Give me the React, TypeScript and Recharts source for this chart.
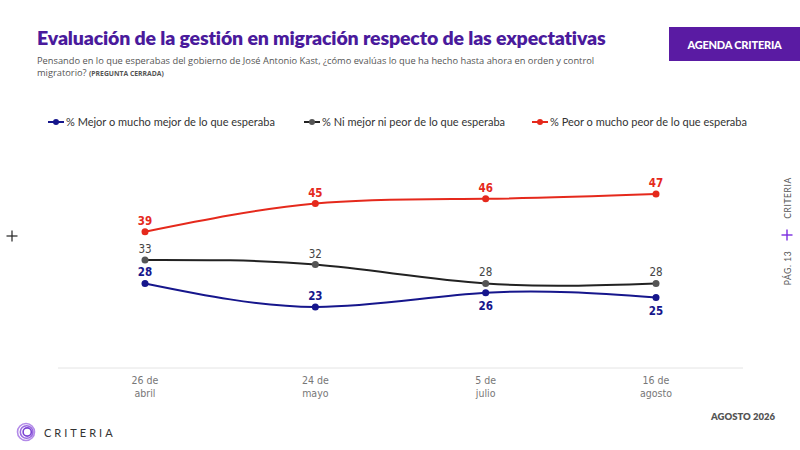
import { LabelList, Line, LineChart, XAxis, YAxis } from "recharts";

const fechas = ["26 de|abril", "24 de|mayo", "5 de|julio", "16 de|agosto"];
const mejor = [28, 23, 26, 25];
const igual = [33, 32, 28, 28];
const peor = [39, 45, 46, 47];
const mejorLabelSide = ["top", "top", "bottom", "bottom"];

const data = fechas.map((fecha, i) => ({
  fecha,
  mejor: mejor[i],
  igual: igual[i],
  peor: peor[i],
}));

const series = [
  { key: "mejor", name: "% Mejor o mucho mejor de lo que esperaba", line: "#16168c", dot: "#16168c", label: "#16168c", weight: 700 },
  { key: "igual", name: "% Ni mejor ni peor de lo que esperaba", line: "#222222", dot: "#555555", label: "#444444", weight: 400 },
  { key: "peor", name: "% Peor o mucho peor de lo que esperaba", line: "#e5291c", dot: "#e5291c", label: "#e5291c", weight: 700 },
];

const numFont = "'DejaVu Sans Condensed', sans-serif";
const textFont = "Lato, 'Open Sans', sans-serif";

function DateTick(props: any) {
  const { x, y, payload } = props;
  const [a, b] = String(payload.value).split("|");
  return (
    <text x={x} y={y + 8} textAnchor="middle" fill="#777" fontSize={10.5} fontFamily={numFont}>
      <tspan x={x} dy={0}>{a}</tspan>
      <tspan x={x} dy={13}>{b}</tspan>
    </text>
  );
}

function makeLabel(color: string, weight: number, sides?: string[]) {
  return (props: any) => {
    const { x, y, value, index } = props;
    const below = sides ? sides[index] === "bottom" : false;
    return (
      <text
        x={x}
        y={below ? y + 17 : y - 7}
        textAnchor="middle"
        fill={color}
        fontSize={11.5}
        fontWeight={weight}
        fontFamily={numFont}
      >
        {value}
      </text>
    );
  };
}

function Logo() {
  return (
    <svg width={24} height={20} viewBox="0 0 24 20" style={{ position: "absolute", left: 15, top: 422 }}>
      <circle cx={11} cy={10} r={8.5} fill="none" stroke="#b38be8" strokeWidth={1.6} />
      <circle cx={11.6} cy={10} r={6.3} fill="none" stroke="#9a6ae0" strokeWidth={1.6} />
      <circle cx={12.2} cy={10} r={4.1} fill="none" stroke="#7c44d4" strokeWidth={1.6} />
    </svg>
  );
}

export default function App() {
  return (
    <div style={{ position: "absolute", left: 0, top: 0, width: 800, height: 450, background: "#fff", overflow: "hidden", fontFamily: textFont }}>
      <div style={{ position: "absolute", left: 37, top: 26, fontSize: 19.5, fontWeight: 800, color: "#4a1a9c", letterSpacing: -0.15, whiteSpace: "nowrap" }}>
        Evaluación de la gestión en migración respecto de las expectativas
      </div>
      <div style={{ position: "absolute", left: 37, top: 55, width: 570, fontSize: 9.3, lineHeight: "11.5px", color: "#555", fontFamily: "'Open Sans', sans-serif" }}>
        Pensando en lo que esperabas del gobierno de José Antonio Kast, ¿cómo evalúas lo que ha hecho hasta ahora en orden y control
        <br />
        migratorio? <span style={{ fontSize: 6.8, fontWeight: 700 }}>(PREGUNTA CERRADA)</span>
      </div>
      <div style={{ position: "absolute", left: 669, top: 27, width: 131, height: 34, background: "#5a1ba3", color: "#fff", fontSize: 11, fontWeight: 900, display: "flex", alignItems: "center", justifyContent: "center", letterSpacing: -0.2 }}>
        AGENDA CRITERIA
      </div>

      {series.map((s, i) => (
        <div key={s.key} style={{ position: "absolute", left: [47, 303, 531][i], top: 115, display: "flex", alignItems: "center", fontSize: 11, color: "#333", whiteSpace: "nowrap" }}>
          <svg width={18} height={10} style={{ marginRight: 1 }}>
            <line x1={1} y1={5} x2={17} y2={5} stroke={s.line} strokeWidth={2} />
            <circle cx={9} cy={5} r={3} fill={s.dot} />
          </svg>
          {s.name}
        </div>
      ))}

      <svg width={12} height={12} style={{ position: "absolute", left: 6, top: 230 }}>
        <line x1={6} y1={0.5} x2={6} y2={11.5} stroke="#222" strokeWidth={1.2} />
        <line x1={0.5} y1={6} x2={11.5} y2={6} stroke="#222" strokeWidth={1.2} />
      </svg>
      <svg width={12} height={12} style={{ position: "absolute", left: 781, top: 229 }}>
        <line x1={6} y1={0.5} x2={6} y2={11.5} stroke="#7a2de0" strokeWidth={1.4} />
        <line x1={0.5} y1={6} x2={11.5} y2={6} stroke="#7a2de0" strokeWidth={1.4} />
      </svg>
      <div style={{ position: "absolute", left: 788, top: 198, transform: "translate(-50%, -50%) rotate(-90deg)", fontSize: 8.5, color: "#555", letterSpacing: 0.6, whiteSpace: "nowrap" }}>
        CRITERIA
      </div>
      <div style={{ position: "absolute", left: 788, top: 268, transform: "translate(-50%, -50%) rotate(-90deg)", fontSize: 8.5, color: "#555", letterSpacing: 0.6, whiteSpace: "nowrap" }}>
        PÁG. 13
      </div>

      <div style={{ position: "absolute", left: 0, top: 0 }}>
        <LineChart width={800} height={450} data={data} margin={{ top: 180, right: 57, bottom: 52, left: 58 }}>
          <XAxis
            dataKey="fecha"
            padding={{ left: 87, right: 87 }}
            axisLine={{ stroke: "#e4e4e4" }}
            tickLine={false}
            tick={<DateTick />}
            interval={0}
          />
          <YAxis hide domain={[10, 50]} />
          {series.map((s) => (
            <Line
              key={s.key}
              type="natural"
              dataKey={s.key}
              stroke={s.line}
              strokeWidth={2}
              dot={{ r: 3.5, fill: s.dot, stroke: s.dot, strokeWidth: 0 }}
              activeDot={false}
              isAnimationActive={false}
            >
              <LabelList dataKey={s.key} content={makeLabel(s.label, s.weight, s.key === "mejor" ? mejorLabelSide : undefined)} />
            </Line>
          ))}
        </LineChart>
      </div>

      <div style={{ position: "absolute", right: 25, top: 411, fontSize: 9.5, fontWeight: 800, color: "#555" }}>AGOSTO 2026</div>
      <Logo />
      <div style={{ position: "absolute", left: 44, top: 426, fontSize: 11, letterSpacing: 3, color: "#333" }}>CRITERIA</div>
    </div>
  );
}
